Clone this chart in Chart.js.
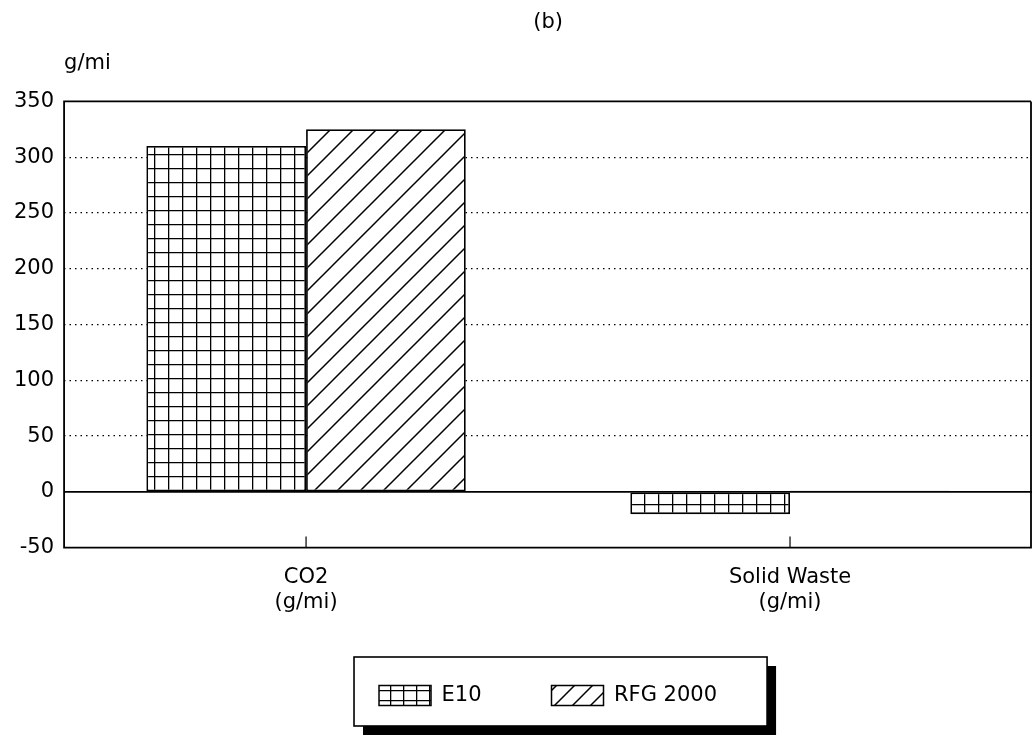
<!DOCTYPE html>
<html>
<head>
<meta charset="utf-8">
<script src="https://cdn.jsdelivr.net/npm/chart.js@4/dist/chart.umd.min.js"></script>
<style>
  html, body { margin: 0; padding: 0; background: #fff; overflow: hidden; }
  #wrap { width: 1032px; height: 748px; }
</style>
</head>
<body>
<div id="wrap"><canvas id="c" width="1032" height="748"></canvas></div>
<script>
const categories = [["CO2", "(g/mi)"], ["Solid Waste", "(g/mi)"]];
const seriesNames = ["E10", "RFG 2000"];
const e10Values = [310, -20];
const rfg2000Values = [325, 1];
const yMin = -50, yMax = 350, yStep = 50;
const chartTitle = "(b)";
const yUnit = "g/mi";

const FONT = "'DejaVu Sans', sans-serif";

function gridPattern(w, h) {
  const c = document.createElement('canvas');
  c.width = w; c.height = h;
  const g = c.getContext('2d');
  g.fillStyle = '#fff'; g.fillRect(0, 0, w, h);
  g.strokeStyle = '#000'; g.lineWidth = 1.6;
  g.beginPath();
  g.moveTo(0.5, 0); g.lineTo(0.5, h);
  g.moveTo(0, 0.5); g.lineTo(w, 0.5);
  g.stroke();
  return g.createPattern(c, 'repeat');
}
function hatchPattern(s) {
  const c = document.createElement('canvas');
  c.width = s; c.height = s;
  const g = c.getContext('2d');
  g.fillStyle = '#fff'; g.fillRect(0, 0, s, s);
  g.strokeStyle = '#000'; g.lineWidth = 1.5;
  g.beginPath();
  g.moveTo(-2, s + 2); g.lineTo(s + 2, -2);
  g.moveTo(-2, 2); g.lineTo(2, -2);
  g.moveTo(s - 2, s + 2); g.lineTo(s + 2, s - 2);
  g.stroke();
  return g.createPattern(c, 'repeat');
}

const e10Fill = gridPattern(14, 14);
const rfgFill = hatchPattern(23);
const e10Legend = gridPattern(13, 10);
const rfgLegend = hatchPattern(18);

const framePlugin = {
  id: 'frame',
  beforeDraw(chart) {
    const lg = chart.legend;
    if (!lg || !lg.legendHitBoxes || !lg.legendHitBoxes.length) return;
    const hb = lg.legendHitBoxes;
    const first = hb[0], last = hb[hb.length - 1];
    const x0 = first.left - 25, x1 = last.left + last.width + 50;
    const y0 = first.top - 28, y1 = first.top + first.height + 20;
    const ctx = chart.ctx;
    ctx.save();
    ctx.fillStyle = '#000';
    ctx.fillRect(x0 + 9, y0 + 9, x1 - x0, y1 - y0);
    ctx.fillStyle = '#fff';
    ctx.fillRect(x0, y0, x1 - x0, y1 - y0);
    ctx.strokeStyle = '#000'; ctx.lineWidth = 1.6;
    ctx.strokeRect(x0, y0, x1 - x0, y1 - y0);
    ctx.restore();
  },
  afterDatasetsDraw(chart) {
    const {ctx, chartArea: a, scales} = chart;
    ctx.save();
    ctx.strokeStyle = '#000';
    ctx.lineWidth = 1.8;
    const y0 = scales.y.getPixelForValue(0);
    ctx.beginPath(); ctx.moveTo(a.left, y0); ctx.lineTo(a.right, y0); ctx.stroke();
    ctx.beginPath();
    ctx.moveTo(a.right - 1, a.top); ctx.lineTo(a.left, a.top);
    ctx.lineTo(a.left, a.bottom); ctx.lineTo(a.right - 1, a.bottom);
    ctx.lineTo(a.right - 1, a.top);
    ctx.stroke();
    ctx.lineWidth = 1.2;
    scales.x.ticks.forEach((t, i) => {
      const x = scales.x.getPixelForTick(i);
      ctx.beginPath(); ctx.moveTo(x, a.bottom); ctx.lineTo(x, a.bottom - 11); ctx.stroke();
    });
    ctx.restore();
  }
};

new Chart(document.getElementById('c'), {
  type: 'bar',
  data: {
    labels: categories,
    datasets: [
      { label: seriesNames[0], data: e10Values, backgroundColor: e10Fill,
        borderColor: '#000', borderWidth: 1.8, borderSkipped: false },
      { label: seriesNames[1], data: rfg2000Values, backgroundColor: rfgFill,
        borderColor: '#000', borderWidth: 1.8, borderSkipped: false }
    ]
  },
  options: {
    responsive: false,
    animation: false,
    events: [],
    layout: { padding: { top: 0, left: 4, right: 0, bottom: 32 } },
    datasets: { bar: { categoryPercentage: 0.66, barPercentage: 1.0 } },
    scales: {
      x: {
        grid: { display: false },
        border: { display: false },
        afterFit(scale) { scale.height -= 9; },
        ticks: { color: '#000', font: { family: FONT, size: 21 }, padding: 9 }
      },
      y: {
        min: yMin, max: yMax,
        afterBuildTicks(scale) {
          const t = [];
          for (let v = yMin; v <= yMax; v += yStep) t.push({ value: v });
          scale.ticks = t;
        },
        grid: {
          drawTicks: false,
          lineWidth: 1.3,
          color: ctx => (ctx.tick && (ctx.tick.value === yMax || ctx.tick.value === yMin || ctx.tick.value === 0)) ? 'rgba(0,0,0,0)' : '#000'
        },
        border: { display: false, dash: [1.5, 4] },
        ticks: { color: '#000', font: { family: FONT, size: 21 }, padding: 10 }
      }
    },
    plugins: {
      title: {
        display: true, text: chartTitle, fullSize: false,
        color: '#000', font: { family: FONT, size: 21, weight: 'normal' },
        padding: { top: 10, bottom: 8 }
      },
      subtitle: {
        display: true, text: yUnit, fullSize: false, align: 'start',
        color: '#000', font: { family: FONT, size: 21 },
        padding: { top: 8, bottom: 25 }
      },
      legend: {
        display: true, position: 'bottom', fullSize: false,
        labels: {
          color: '#000', font: { family: FONT, size: 21 },
          boxWidth: 52, boxHeight: 20, padding: 70,
          generateLabels(chart) {
            const fills = [e10Legend, rfgLegend];
            return chart.data.datasets.map((d, i) => ({
              text: d.label, fillStyle: fills[i], strokeStyle: '#000',
              lineWidth: 1.5, hidden: false, datasetIndex: i, fontColor: '#000'
            }));
          }
        }
      },
      tooltip: { enabled: false }
    }
  },
  plugins: [framePlugin]
});
</script>
</body>
</html>
